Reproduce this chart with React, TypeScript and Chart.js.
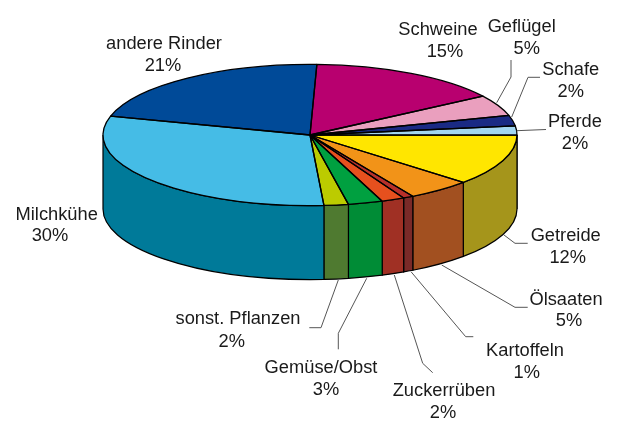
import React, { useEffect, useRef } from "react";
import { Chart, registerables } from "chart.js";

Chart.register(...registerables);

const categories = ["Schweine", "Geflügel", "Schafe", "Pferde", "Getreide", "Ölsaaten", "Kartoffeln", "Zuckerrüben", "Gemüse/Obst", "sonst. Pflanzen", "Milchkühe", "andere Rinder"];
const shares = [15.2, 4.8, 2.4, 2.1, 11.7, 5.0, 0.8, 1.8, 2.7, 1.9, 30.4, 21.2];
const topColors = ["#B8006F", "#EA9FBE", "#1A2A84", "#A3D6F0", "#FFE600", "#F29318", "#B8302A", "#E6501E", "#00A040", "#BCCB00", "#45BCE6", "#004A98"];
const sideColors = ["#7A004A", "#9C6A7F", "#111C58", "#6D8EA0", "#A5951B", "#A25020", "#7A2A28", "#A03024", "#008C36", "#4F7A30", "#007A99", "#00316A"];

const startDegrees = 1.9;
const centerX = 310;
const centerY = 135;
const radiusX = 207;
const squash = 0.341;
const depth = 74;

// [x, baseline] for name line and percent line
const labelLayout: number[][] = [
  [438, 35, 445, 57],
  [521.7, 31.7, 526.7, 54],
  [570.7, 74.7, 570.7, 96.7],
  [575, 126.7, 575, 149],
  [565.7, 240.7, 567.7, 262.7],
  [566, 305, 569, 326],
  [525, 355.7, 526.7, 378],
  [444, 396, 443, 418],
  [321, 372.7, 326, 395],
  [238, 324, 231.7, 346.7],
  [56.7, 220, 50, 240.7],
  [164, 49, 163, 71],
];

const leaders: number[][][] = [
  [],
  [[511, 60], [511, 77], [496.7, 102.7]],
  [[540, 77.3], [528, 77.3], [511.7, 117]],
  [[546, 129.5], [516.7, 130.7]],
  [[504, 235], [515, 243.3], [527.7, 243.3]],
  [[441.7, 265], [515, 307.3], [527.7, 307.3]],
  [[411, 271.7], [465.7, 336.7], [473.3, 336.7]],
  [[394.3, 275], [422.7, 363.3], [432.7, 372.7]],
  [[366.7, 278.3], [338.3, 333.3], [338.3, 349.3]],
  [[338.3, 280], [321, 327.7], [309.3, 327.7]],
  [],
  [],
];

const pie3d = {
  id: "pie3d",
  beforeDatasetsDraw(chart: any) {
    const ctx = chart.ctx;
    const arcs = chart.getDatasetMeta(0).data;
    ctx.save();
    arcs.forEach((arc: any, i: number) => {
      const p = arc.getProps(["startAngle", "endAngle", "outerRadius"], true);
      const a0 = Math.max(p.startAngle, 0);
      const a1 = Math.min(p.endAngle, Math.PI);
      if (a1 <= a0) return;
      const rx = p.outerRadius;
      const ry = rx * squash;
      ctx.beginPath();
      ctx.ellipse(centerX, centerY, rx, ry, 0, a0, a1, false);
      ctx.ellipse(centerX, centerY + depth, rx, ry, 0, a1, a0, true);
      ctx.closePath();
      ctx.fillStyle = sideColors[i];
      ctx.fill();
      ctx.lineWidth = 1.2;
      ctx.strokeStyle = "#000";
      ctx.stroke();
    });
    ctx.restore();
    const first = arcs[0];
    ctx.save();
    ctx.translate(centerX, centerY);
    ctx.scale(1, squash);
    ctx.translate(-first.x, -first.y);
  },
  afterDatasetsDraw(chart: any) {
    const ctx = chart.ctx;
    ctx.restore();
    const arcs = chart.getDatasetMeta(0).data;
    ctx.save();
    ctx.lineWidth = 1.3;
    ctx.strokeStyle = "#000";
    ctx.lineJoin = "round";
    arcs.forEach((arc: any) => {
      const p = arc.getProps(["startAngle", "endAngle", "outerRadius"], true);
      ctx.beginPath();
      ctx.moveTo(centerX, centerY);
      ctx.ellipse(centerX, centerY, p.outerRadius, p.outerRadius * squash, 0, p.startAngle, p.endAngle, false);
      ctx.closePath();
      ctx.stroke();
    });
    ctx.restore();
  },
  afterDraw(chart: any) {
    const ctx = chart.ctx;
    ctx.save();
    ctx.strokeStyle = "#555";
    ctx.lineWidth = 1;
    leaders.forEach((pts) => {
      if (!pts.length) return;
      ctx.beginPath();
      pts.forEach((pt, j) => (j ? ctx.lineTo(pt[0], pt[1]) : ctx.moveTo(pt[0], pt[1])));
      ctx.stroke();
    });
    ctx.fillStyle = "#1a1a1a";
    ctx.font = '18.3px "Liberation Sans", Arial, sans-serif';
    ctx.textAlign = "center";
    ctx.textBaseline = "alphabetic";
    categories.forEach((name, i) => {
      const l = labelLayout[i];
      ctx.fillText(name, l[0], l[1]);
      ctx.fillText(Math.round(shares[i]) + "%", l[2], l[3]);
    });
    ctx.restore();
  },
};

export default function App() {
  const ref = useRef<HTMLCanvasElement>(null);
  useEffect(() => {
    const chart = new Chart(ref.current as HTMLCanvasElement, {
      type: "pie",
      data: {
        labels: categories,
        datasets: [
          {
            data: shares,
            backgroundColor: topColors,
            borderWidth: 0,
            radius: radiusX,
            clip: false,
          } as any,
        ],
      },
      options: {
        responsive: false,
        animation: false,
        rotation: startDegrees,
        events: [],
        layout: { padding: 0 },
        plugins: { legend: { display: false }, tooltip: { enabled: false }, title: { display: false } },
      },
      plugins: [pie3d],
    });
    return () => chart.destroy();
  }, []);
  return (
    <canvas
      ref={ref}
      width={617}
      height={429}
      style={{ position: "absolute", left: 0, top: 0, display: "block", width: 617, height: 429 }}
    />
  );
}
